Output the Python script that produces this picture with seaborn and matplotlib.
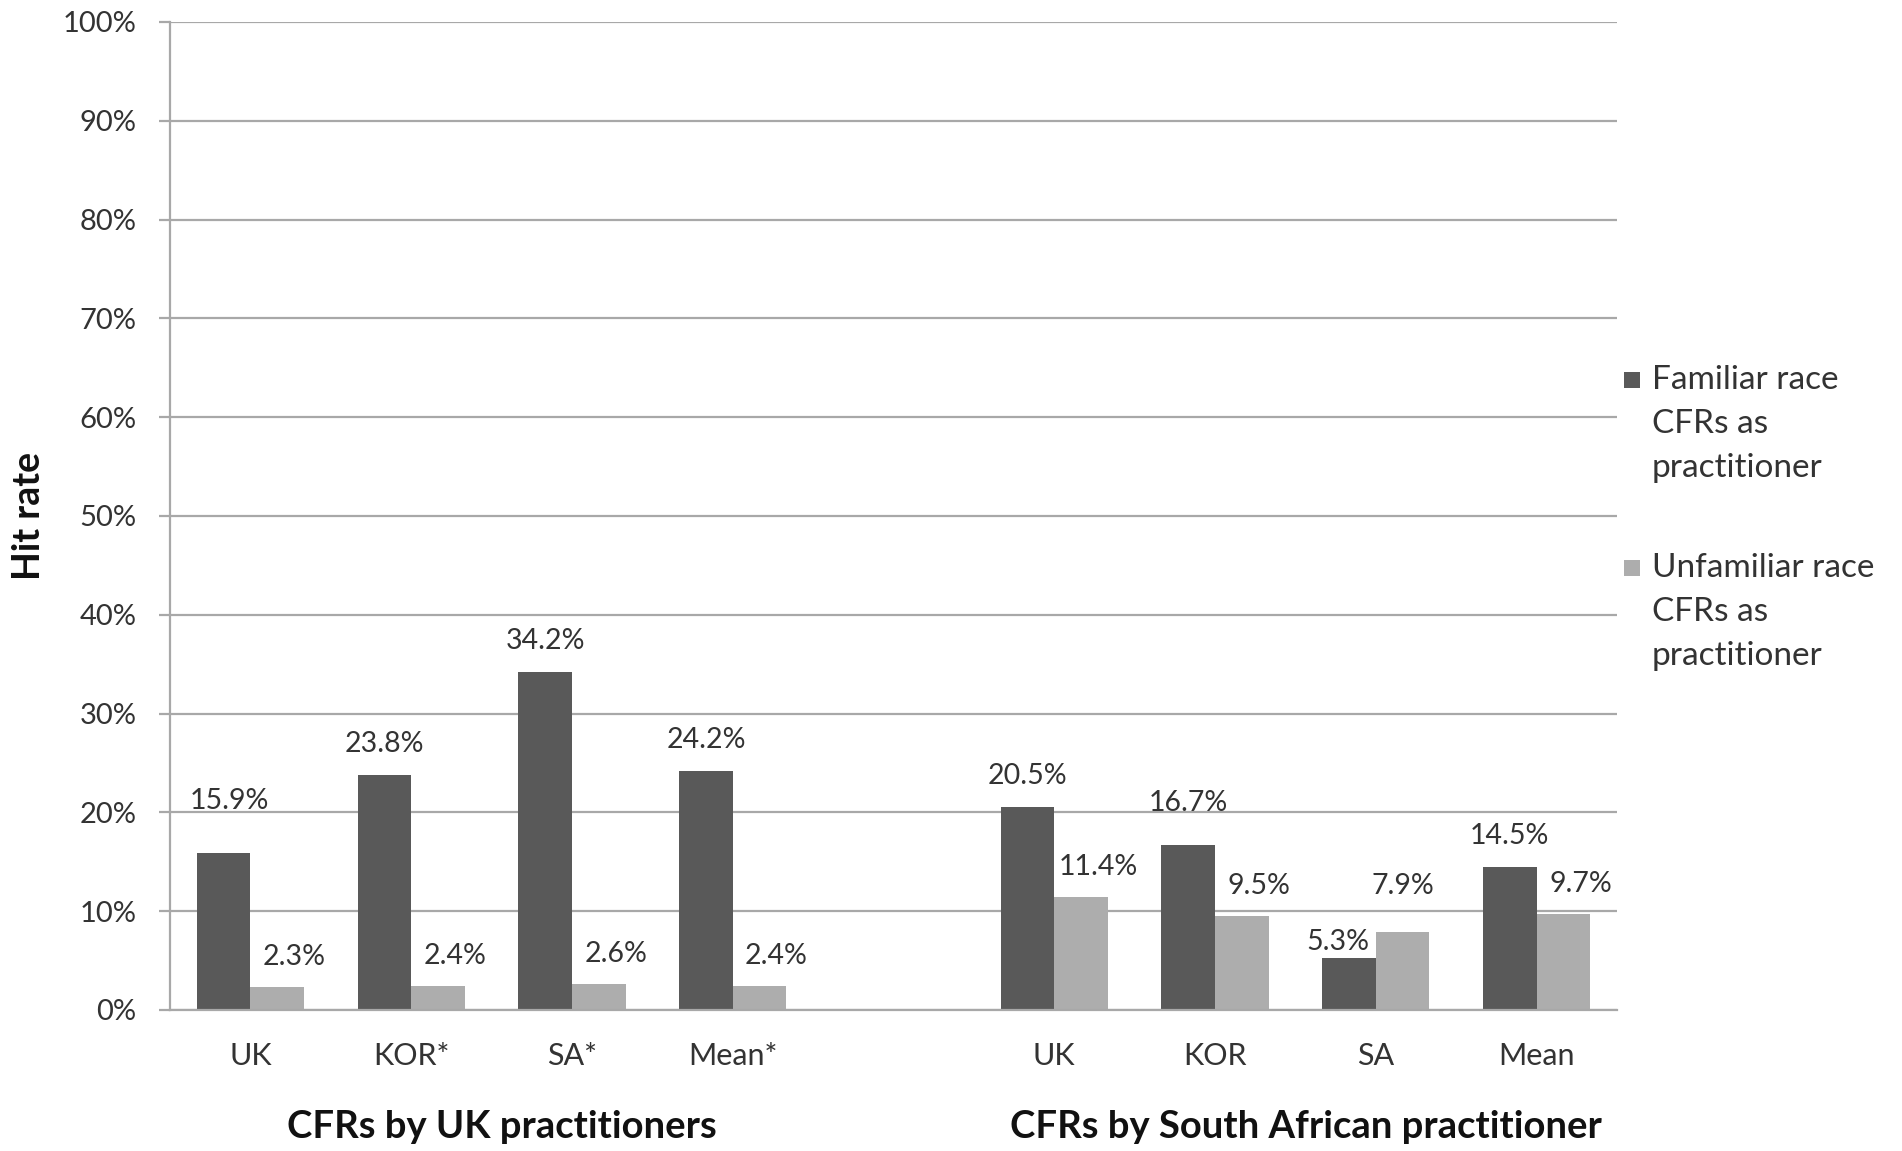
import textwrap
import matplotlib
matplotlib.use("Agg")
import matplotlib.pyplot as plt
from matplotlib.patches import Rectangle
from matplotlib.ticker import FuncFormatter, MultipleLocator
import seaborn as sns
import pandas as pd

# ---------------- data ----------------
uk_categories = ["UK", "KOR*", "SA*", "Mean*"]
sa_categories = ["UK", "KOR", "SA", "Mean"]
uk_familiar = [15.9, 23.8, 34.2, 24.2]
uk_unfamiliar = [2.3, 2.4, 2.6, 2.4]
sa_familiar = [20.5, 16.7, 5.3, 14.5]
sa_unfamiliar = [11.4, 9.5, 7.9, 9.7]
series_names = ["Familiar race CFRs as practitioner",
                "Unfamiliar race CFRs as practitioner"]
group_titles = ["CFRs by UK practitioners", "CFRs by South African practitioner"]
y_label = "Hit rate"

# ---------------- style ----------------
sns.set_theme(style="white")
FONT = ["Lato", "DejaVu Sans"]
plt.rcParams["font.family"] = FONT
DARK = "#595959"
LIGHT = "#adadad"
GRID = "#a8a8a8"
TEXT = "#333333"

# ---------------- frame ----------------
rows = []
order = []
for g, (cats, fam, unf) in enumerate([(uk_categories, uk_familiar, uk_unfamiliar),
                                      (sa_categories, sa_familiar, sa_unfamiliar)]):
    if g == 1:
        order.append("gap")
    for c, f, u in zip(cats, fam, unf):
        key = f"g{g}|{c}"
        order.append(key)
        rows.append({"slot": key, "series": series_names[0], "value": f})
        rows.append({"slot": key, "series": series_names[1], "value": u})
df = pd.DataFrame(rows)
tick_labels = uk_categories + [""] + sa_categories

fig = plt.figure(figsize=(19.02, 11.51), dpi=100)
ax = fig.add_axes([170 / 1902, 1 - 1010 / 1151, (1617 - 170) / 1902, (1010 - 22) / 1151])

sns.barplot(data=df, x="slot", y="value", hue="series", order=order,
            hue_order=series_names, palette=[DARK, LIGHT], width=0.667, gap=0,
            dodge=True, errorbar=None, saturation=1, legend=False, ax=ax,
            linewidth=0)

ax.set_xlim(-0.5, len(order) - 0.5)
ax.set_ylim(0, 100)
ax.yaxis.set_major_locator(MultipleLocator(10))
ax.yaxis.set_major_formatter(FuncFormatter(lambda v, p: f"{v:.0f}%"))
ax.grid(axis="y", color=GRID, linewidth=1.6)
ax.grid(axis="x", visible=False)
ax.set_axisbelow(True)
for s in ["top", "right"]:
    ax.spines[s].set_visible(False)
ax.spines["left"].set_color(GRID)
ax.spines["left"].set_linewidth(1.6)
ax.spines["bottom"].set_color(GRID)
ax.spines["bottom"].set_linewidth(1.6)

ax.set_xticks(range(len(order)))
ax.set_xticklabels(tick_labels)
ax.tick_params(axis="x", length=0, pad=23, labelsize=22, labelcolor=TEXT)
ax.tick_params(axis="y", length=8, width=1.6, color=GRID, pad=16, labelsize=21,
               labelcolor=TEXT, left=True)
ax.set_xlabel("")
ax.set_ylabel(y_label, fontsize=27, fontweight="bold", color="#111111", labelpad=12)

# ---------------- value labels ----------------
px = 0.72  # points per pixel at dpi 100
default_offsets = [(0, 31), (17, 30)]
nudges = {(0, 0): (6, 52), (0, 5): (0, 42), (0, 6): (-11, 16), (1, 6): (0, 46)}
for si, cont in enumerate(ax.containers):
    for bi, bar in enumerate(cont):
        h = bar.get_height()
        if not h == h:
            continue
        dx, dy = nudges.get((si, bi), default_offsets[si])
        ax.annotate(f"{h:.1f}%", (bar.get_x() + bar.get_width() / 2, h),
                    xytext=(dx * px, dy * px), textcoords="offset points",
                    ha="center", va="center", fontsize=20.5, color=TEXT)

# ---------------- group titles ----------------
group_centers = [1.5, 6.5]
for cx, title in zip(group_centers, group_titles):
    ax.annotate(title, (cx, 0), xycoords=("data", "axes fraction"),
                xytext=(10 * px, -117 * px), textcoords="offset points",
                ha="center", va="center", fontsize=27.5, fontweight="bold",
                color="#111111")

# ---------------- legend (manual) ----------------
legend_tops = [380, 568]
for name, color, ytop in zip(series_names, [DARK, LIGHT], legend_tops):
    fig.patches.append(Rectangle((1624 / 1902, 1 - (ytop + 8) / 1151), 16 / 1902, 16 / 1151,
                                 transform=fig.transFigure, color=color, lw=0))
    for i, line in enumerate(textwrap.wrap(name, 15)):
        fig.text(1652 / 1902, 1 - (ytop + i * 44) / 1151, line, ha="left", va="center",
                 fontsize=24, color=TEXT)

fig.savefig("out.png", dpi=100, facecolor="white")
